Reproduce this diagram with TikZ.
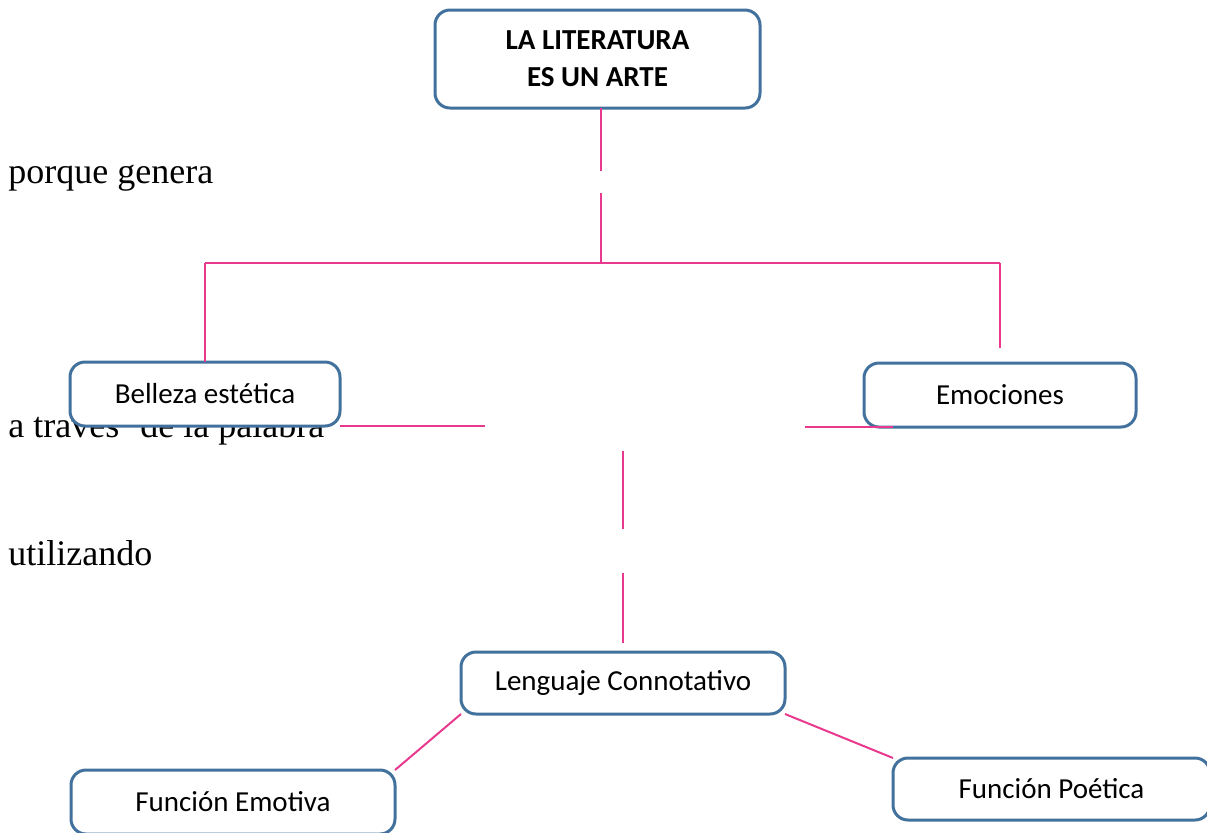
\documentclass[tikz,border=0pt]{standalone}
\usepackage{fontspec}
\setmainfont{Carlito}
\newfontfamily\palfont{Liberation Serif}
\usepackage{tikz}
\usetikzlibrary{calc}
\definecolor{boxblue}{HTML}{41719C}
\definecolor{linkpink}{HTML}{E8398E}
\tikzstyle{rect} = [
    rectangle,
    rounded corners=7.5pt,
    align=center,
    minimum width=162pt,
    minimum height=32pt,
    inner sep=0pt,
    outer sep=0pt,
    fill=white,
    draw=boxblue,
    line width=1.5pt,
    font=\fontsize{14.5}{18.5}\selectfont,
]
\tikzstyle{trect} = [rect, minimum width=162.5pt, minimum height=49pt, font=\fontsize{14.5}{18.5}\selectfont\bfseries]
\tikzstyle{note} = [anchor=base west, inner sep=0pt, font=\palfont\fontsize{18}{21}\selectfont]
\tikzstyle{link} = [draw=linkpink, line width=1pt]

\begin{document}
\begin{tikzpicture}[x=0.5pt, y=-0.5pt]
    \useasboundingbox (0,0) rectangle (1207,832);

    \node (pg) [note] at (8,183) {porque genera};
    \node (tp) [note] at (8,437) {a traves´ de la palabra};
    \node (ut) [note] at (8,565) {utilizando};

    \node (la) [trect] at (597.5,59) {LA LITERATURA\\ ES UN ARTE};
    \node (be) [rect, minimum width=135pt] at (205,394) {Belleza estética};
    \node (em) [rect, minimum width=136pt] at (1000,395) {Emociones};
    \node (lc) [rect, minimum height=31pt] at (623,683) {Lenguaje Connotativo};
    \node (fe) [rect] at (233,802) {Función Emotiva};
    \node (fp) [rect, minimum width=158.5pt, minimum height=31pt] at (1051.5,789) {Función Poética};

    % broken stem under the title
    \coordinate (t1) at (601,171);
    \coordinate (t2) at (601,193);
    \coordinate (tj) at (601,263);
    \coordinate (tl) at (205,263);
    \coordinate (tr) at (1000,263);
    \coordinate (re) at (1000,348);
    \path [link]
        (la.south -| t1) edge (t1)
        (t2) edge (tj)
        (tl) edge (tr)
        (tl) edge (be.north)
        (tr) edge (re);

    % the loose pieces in the middle
    \coordinate (h1) at (485,426);
    \coordinate (h2) at (805,427);
    \coordinate (h3) at (893,427);
    \coordinate (v1) at (623,451);
    \coordinate (v2) at (623,529);
    \coordinate (v3) at (623,573);
    \coordinate (v4) at (623,643);
    \path [link]
        (be.south east) edge (h1)
        (h2) edge (h3)
        (v1) edge (v2)
        (v3) edge (v4);

    \path [link]
        (lc.south west) edge (fe.north east)
        (lc.south east) edge (fp.north west);
\end{tikzpicture}
\end{document}
